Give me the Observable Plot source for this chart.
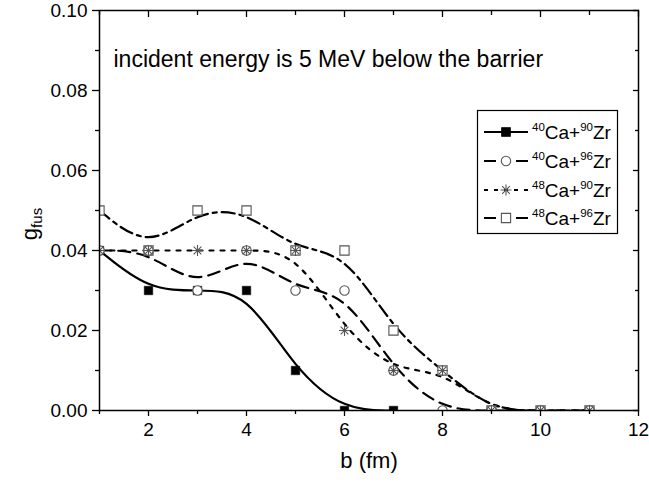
<!DOCTYPE html>
<html><head><meta charset="utf-8">
<script src="https://cdn.jsdelivr.net/npm/d3@7"></script>
<script src="https://cdn.jsdelivr.net/npm/@observablehq/plot@0.6"></script>
<style>body{margin:0;background:#fff;} svg{display:block;}</style>
</head><body><div id="chart"></div>
<script>
// ---- data ----
const bValues = [1, 2, 3, 4, 5, 6, 7, 8, 9, 10, 11];
const ca40zr90 = [0.04, 0.03, 0.03, 0.03, 0.01, 0.00, 0.00];
const ca40zr96 = [0.04, 0.04, 0.03, 0.04, 0.03, 0.03, 0.01, 0.00, 0.00, 0.00, 0.00];
const ca48zr90 = [0.04, 0.04, 0.04, 0.04, 0.04, 0.02, 0.01, 0.01, 0.00, 0.00, 0.00];
const ca48zr96 = [0.05, 0.04, 0.05, 0.05, 0.04, 0.04, 0.02, 0.01, 0.00, 0.00, 0.00];
const legendLabels = [["40", "Ca+", "90", "Zr"], ["40", "Ca+", "96", "Zr"], ["48", "Ca+", "90", "Zr"], ["48", "Ca+", "96", "Zr"]];
const xMajorTicks = [2, 4, 6, 8, 10, 12];
const xMinorTicks = [1, 3, 5, 7, 9, 11];
const yMajorTicks = [0, 0.02, 0.04, 0.06, 0.08, 0.10];
const yMinorTicks = [0.01, 0.03, 0.05, 0.07, 0.09];
const annotation = "incident energy is 5 MeV below the barrier";
const xLabel = "b (fm)";
const yLabelMain = "g", yLabelSub = "fus";

const rows = (vals) => vals.map((g, i) => ({b: bValues[i], g}));
const s1 = rows(ca40zr90), s2 = rows(ca40zr96), s3 = rows(ca48zr90), s4 = rows(ca48zr96);

const dashes = ["none", "12,7", "4,7", "13,5,4,5"];
const FONT = "'Liberation Sans', Arial, Helvetica, sans-serif";
const markGrey = "#555";
const lw = 2.2;
const W = 649, H = 485, ML = 99, MR = 11, MT = 10, MB = 75;

const lineOpts = (i) => ({x: "b", y: "g", curve: "basis", stroke: "black", strokeWidth: lw, strokeDasharray: dashes[i], clip: true});
const blank = () => "";

const chart = Plot.plot({
  width: W, height: H,
  marginLeft: ML, marginRight: MR, marginTop: MT, marginBottom: MB,
  x: {domain: [1, 12]},
  y: {domain: [0, 0.1]},
  style: {fontFamily: FONT, background: "white", color: "black", fontSize: "19px"},
  marks: [
    Plot.line(s1, lineOpts(0)),
    Plot.line(s2, lineOpts(1)),
    Plot.line(s3, lineOpts(2)),
    Plot.line(s4, lineOpts(3)),
    Plot.dot(s1, {x: "b", y: "g", symbol: "square", r: 4.8, fill: "black", stroke: "black", strokeWidth: 0.5, clip: true}),
    Plot.dot(s4, {x: "b", y: "g", symbol: "square", r: 5.2, fill: "white", stroke: markGrey, strokeWidth: 1.1, clip: true}),
    Plot.dot(s2, {x: "b", y: "g", symbol: "circle", r: 4.7, fill: "white", stroke: markGrey, strokeWidth: 1.1, clip: true}),
    Plot.dot(s3, {x: "b", y: "g", symbol: "plus", r: 3.6, stroke: markGrey, strokeWidth: 1.1, clip: true}),
    Plot.dot(s3, {x: "b", y: "g", symbol: "times", r: 3.6, stroke: markGrey, strokeWidth: 1.1, clip: true}),
    Plot.axisX(xMajorTicks, {anchor: "bottom", tickSize: 6, tickPadding: 6, fontSize: 19, strokeWidth: 1.3, label: null, tickFormat: (d) => String(d)}),
    Plot.axisX(xMinorTicks, {anchor: "bottom", tickSize: 4, strokeWidth: 1.3, label: null, tickFormat: blank}),
    Plot.axisX(xMajorTicks, {anchor: "top", tickSize: -6, strokeWidth: 1.3, label: null, tickFormat: blank}),
    Plot.axisX(xMinorTicks, {anchor: "top", tickSize: -4, strokeWidth: 1.3, label: null, tickFormat: blank}),
    Plot.axisY(yMajorTicks, {anchor: "left", tickSize: 7, tickPadding: 5, fontSize: 19, strokeWidth: 1.3, label: null, tickFormat: d3.format(".2f")}),
    Plot.axisY(yMinorTicks, {anchor: "left", tickSize: 4, strokeWidth: 1.3, label: null, tickFormat: blank}),
    Plot.axisY(yMajorTicks, {anchor: "right", tickSize: -6, strokeWidth: 1.3, label: null, tickFormat: blank}),
    Plot.axisY(yMinorTicks, {anchor: "right", tickSize: -4, strokeWidth: 1.3, label: null, tickFormat: blank}),
    Plot.frame({stroke: "black", strokeWidth: 1.5}),
    Plot.text([annotation], {text: (d) => d, frameAnchor: "top-left", dx: 14, dy: 40, textAnchor: "start", fontSize: 23}),
    Plot.text([xLabel], {text: (d) => d, frameAnchor: "bottom", dy: 57, fontSize: 22})
  ]
});
document.getElementById("chart").appendChild(chart);

const svg = d3.select(chart);

// ---- clip markers to the plot frame ----
const defs = svg.insert("defs", ":first-child");
defs.append("clipPath").attr("id", "frameclip")
  .append("rect").attr("x", ML).attr("y", MT).attr("width", W - ML - MR).attr("height", H - MT - MB);
svg.selectAll("g[aria-label='dot'], g[aria-label='line']").attr("clip-path", "url(#frameclip)");

// ---- y label with subscript ----
const yl = svg.append("text")
  .attr("transform", "translate(37,224) rotate(-90)")
  .attr("text-anchor", "middle")
  .attr("font-family", FONT).attr("font-size", 22).attr("fill", "black");
yl.append("tspan").text(yLabelMain);
yl.append("tspan").attr("font-size", 15).attr("dy", 5).text(yLabelSub);

// ---- legend ----
const lg = svg.append("g");
lg.append("rect").attr("x", 477.5).attr("y", 110.5).attr("width", 140).attr("height", 123)
  .attr("fill", "white").attr("stroke", "black").attr("stroke-width", 1.2);
const rowY = [132, 161, 190, 218];
const symbols = [
  [{type: d3.symbolSquare, r: 4.8, fill: "black", stroke: "black"}],
  [{type: d3.symbolCircle, r: 4.7, fill: "white", stroke: markGrey}],
  [{type: d3.symbolPlus, r: 3.6, fill: "none", stroke: markGrey}, {type: d3.symbolTimes, r: 3.6, fill: "none", stroke: markGrey}],
  [{type: d3.symbolSquare, r: 5.2, fill: "white", stroke: markGrey}]
];
const legendDash = ["none", "12,20", "4,6", "12,20"];
legendLabels.forEach((lab, i) => {
  const y = rowY[i];
  lg.append("line").attr("x1", 484).attr("x2", 528).attr("y1", y).attr("y2", y)
    .attr("stroke", "black").attr("stroke-width", lw).attr("stroke-dasharray", legendDash[i]);
  symbols[i].forEach((s) => {
    lg.append("path").attr("transform", `translate(506,${y})`)
      .attr("d", d3.symbol(s.type, s.r * s.r * Math.PI)())
      .attr("fill", s.fill).attr("stroke", s.stroke).attr("stroke-width", 1.1);
  });
  const t = lg.append("text").attr("x", 532).attr("y", y + 7).attr("text-anchor", "start")
    .attr("font-family", FONT).attr("font-size", 19).attr("fill", "black");
  t.append("tspan").attr("font-size", 11.5).attr("dy", -8).text(lab[0]);
  t.append("tspan").attr("dy", 8).text(lab[1]);
  t.append("tspan").attr("font-size", 11.5).attr("dy", -8).text(lab[2]);
  t.append("tspan").attr("dy", 8).text(lab[3]);
});
</script>
</body></html>
